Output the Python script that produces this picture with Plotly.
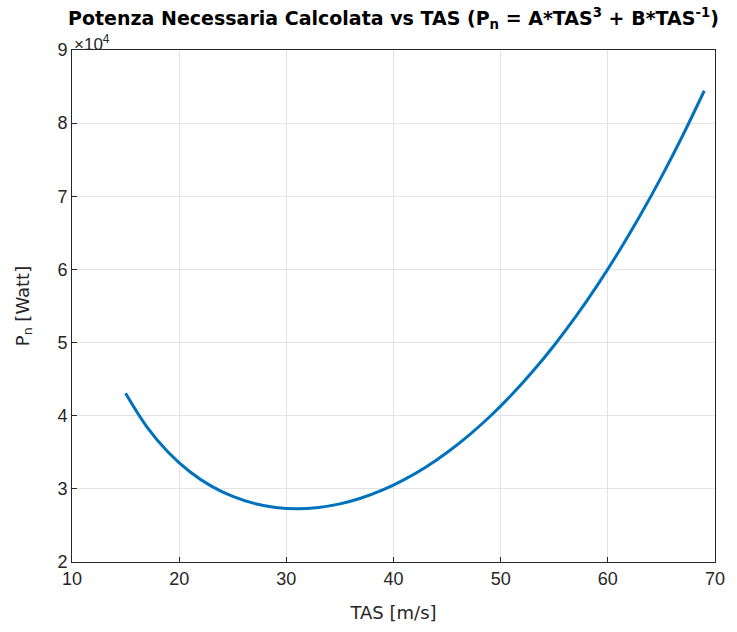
import plotly.graph_objects as go

# Values
tas = [15, 17, 19, 21, 23, 25, 27, 29, 31, 33, 35, 37, 39, 41, 43, 45, 47, 49,
       51, 53, 55, 57, 59, 61, 63, 65, 67, 69]
pn = [43070, 38450, 34970, 32340, 30370, 28960, 28010, 27460, 27290, 27460,
      27950, 28750, 29850, 31260, 32960, 34970, 37280, 39890, 42820, 46070,
      49640, 53540, 57790, 62380, 67330, 72650, 78350, 84430]

x_ticks = [10, 20, 30, 40, 50, 60, 70]
y_ticks = [20000, 30000, 40000, 50000, 60000, 70000, 80000, 90000]
y_ticktext = ["2", "3", "4", "5", "6", "7", "8", "9"]

FONT = "Liberation Sans, Arial, sans-serif"
WIDE = "DejaVu Sans, sans-serif"
AX = "#262626"

fig = go.Figure()
fig.add_trace(go.Scatter(x=tas, y=pn, mode="lines", line=dict(color="#0072BD", width=3, shape="spline"),
                         showlegend=False))

axis_common = dict(showgrid=True, gridcolor="#e3e3e3", gridwidth=1, showline=True,
                   linecolor=AX, linewidth=1, mirror=True, ticks="inside", ticklen=5,
                   tickcolor=AX, zeroline=False, tickfont=dict(family=FONT, size=18, color=AX))

fig.update_xaxes(range=[10, 70], tickvals=x_ticks,
                 title=dict(text="TAS [m/s]", font=dict(family=WIDE, size=18, color=AX), standoff=18),
                 **axis_common)
fig.update_yaxes(range=[20000, 90000], tickvals=y_ticks, ticktext=y_ticktext,
                 title=dict(text="P<sub>n</sub> [Watt]", font=dict(family=WIDE, size=18, color=AX), standoff=23),
                 **axis_common)

fig.add_annotation(text="×10<sup>4</sup>", xref="paper", yref="paper", x=0.0, y=1.0,
                   xanchor="left", yanchor="bottom", showarrow=False, yshift=-6,
                   font=dict(family=FONT, size=17, color=AX))

fig.update_layout(
    width=737, height=632,
    margin=dict(l=72, r=14, t=50, b=70),
    paper_bgcolor="white", plot_bgcolor="white",
    title=dict(text="<b>Potenza Necessaria Calcolata vs TAS (P<sub>n</sub> = A*TAS<sup>3</sup> + B*TAS<sup>-1</sup>)</b>",
               xref="paper", x=0.5, xanchor="center", y=0.982, yanchor="top",
               font=dict(family=WIDE, size=19, color="black")),
)

fig.write_html("out.html")
